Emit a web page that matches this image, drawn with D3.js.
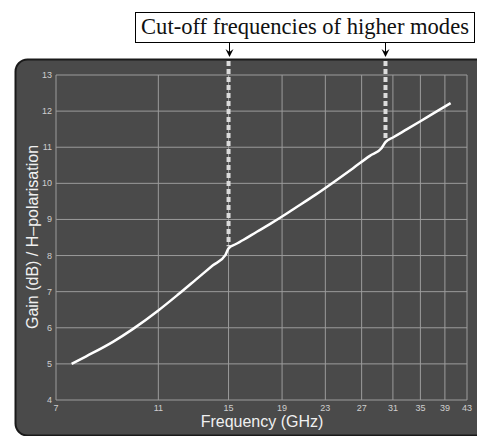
<!DOCTYPE html>
<html>
<head>
<meta charset="utf-8">
<script src="https://cdn.jsdelivr.net/npm/d3@7"></script>
<style>
  body { margin: 0; background: #fff; }
  svg { display: block; }
</style>
</head>
<body>
<div id="chart"></div>
<script>
// values
var freqs = [7.5, 8, 9, 9.84, 11, 12, 13, 14, 14.8, 15, 15.5, 16, 17, 18, 19, 20, 22, 24, 26, 28, 29.5, 30, 31, 33, 35, 37, 40]
var gains = [5.0, 5.21, 5.61, 5.97, 6.48, 6.92, 7.34, 7.73, 8.02, 8.2, 8.32, 8.43, 8.66, 8.87, 9.08, 9.29, 9.68, 10.06, 10.42, 10.76, 10.98, 11.14, 11.27, 11.5, 11.72, 11.93, 12.22]
var xTicks = [7, 11, 15, 19, 23, 27, 31, 35, 39, 43]
var yTicks = [4, 5, 6, 7, 8, 9, 10, 11, 12, 13]
var cutoffFreqs = [15, 30]
var cutoffGains = [8.2, 11.14]
var noteText = "Cut-off frequencies of higher modes"

const width = 477
const height = 436

const svg = d3.select("#chart")
    .append("svg")
    .attr("width", width)
    .attr("height", height)

const x = d3.scaleLog().domain([7, 43]).range([56, 467])
const y = d3.scaleLinear().domain([4, 13]).range([400, 75])

// dark panel
svg.append("rect")
    .attr("x", 15.5)
    .attr("y", 59.5)
    .attr("width", 500)
    .attr("height", 376)
    .attr("rx", 12)
    .style("fill", "#4a4a4a")
    .style("stroke", "#1a1a1a")
    .style("stroke-width", 2)

const grid = svg.append("g")
    .style("stroke", "#9c9c9c")
    .style("stroke-width", 1)

grid.selectAll(".vgrid")
    .data(xTicks)
    .enter()
    .append("line")
    .attr("x1", d => x(d))
    .attr("x2", d => x(d))
    .attr("y1", y(13))
    .attr("y2", y(4))

grid.selectAll(".hgrid")
    .data(yTicks)
    .enter()
    .append("line")
    .attr("x1", x(7))
    .attr("x2", x(43))
    .attr("y1", d => y(d))
    .attr("y2", d => y(d))

// tick labels
const labels = svg.append("g")
    .attr("font-family", "Liberation Sans, Arial, sans-serif")
    .attr("font-size", "9px")
    .attr("fill", "#cfcfcf")

labels.selectAll(".ylab")
    .data(yTicks)
    .enter()
    .append("text")
    .text(d => d)
    .attr("x", x(7) - 4)
    .attr("y", d => y(d) + 3)
    .attr("text-anchor", "end")

labels.selectAll(".xlab")
    .data(xTicks)
    .enter()
    .append("text")
    .text(d => d)
    .attr("x", d => x(d))
    .attr("y", y(4) + 11)
    .attr("text-anchor", "middle")

// axis titles
svg.append("text")
    .text("Frequency (GHz)")
    .attr("x", 262)
    .attr("y", 427)
    .attr("text-anchor", "middle")
    .attr("font-family", "Liberation Sans, Arial, sans-serif")
    .attr("font-size", "16px")
    .attr("fill", "#f0f0f0")

svg.append("text")
    .text("Gain (dB) / H\u2013polarisation")
    .attr("transform", "translate(38,237) rotate(-90)")
    .attr("text-anchor", "middle")
    .attr("font-family", "Liberation Sans, Arial, sans-serif")
    .attr("font-size", "16px")
    .attr("fill", "#f0f0f0")

// dashed cut-off markers
svg.selectAll(".cutoff")
    .data(cutoffFreqs)
    .enter()
    .append("line")
    .attr("x1", d => x(d))
    .attr("x2", d => x(d))
    .attr("y1", 61)
    .attr("y2", (d, i) => y(cutoffGains[i]) - 2)
    .style("stroke", "#dcdcdc")
    .style("stroke-width", 4)
    .style("stroke-dasharray", "5,3")

// gain curve
const line = d3.line()
    .x(d => x(d[0]))
    .y(d => y(d[1]))
    .curve(d3.curveMonotoneX)

svg.append("path")
    .datum(freqs.map((f, i) => [f, gains[i]]))
    .attr("d", line)
    .style("fill", "none")
    .style("stroke", "#ffffff")
    .style("stroke-width", 2.5)

// annotation box + arrows
svg.append("rect")
    .attr("x", 135.5)
    .attr("y", 12.5)
    .attr("width", 339)
    .attr("height", 30)
    .style("fill", "#fff")
    .style("stroke", "#000")
    .style("stroke-width", 1)

const note = svg.append("text")
    .text(noteText)
    .attr("x", 305)
    .attr("y", 34)
    .attr("text-anchor", "middle")
    .attr("font-family", "Liberation Serif, DejaVu Serif, serif")
    .attr("font-size", "24px")
    .attr("fill", "#111")

// fit the note inside the box
const noteWidth = note.node().getComputedTextLength()
note.attr("font-size", (24 * 328 / noteWidth).toFixed(2) + "px")

const arrows = svg.selectAll(".arrow")
    .data(cutoffFreqs)
    .enter()
    .append("g")
    .attr("transform", d => `translate(${Math.round(x(d)) + 0.5},0)`)

arrows.append("line")
    .attr("x1", 0)
    .attr("x2", 0)
    .attr("y1", 43)
    .attr("y2", 56)
    .style("stroke", "#000")
    .style("stroke-width", 1)

arrows.append("path")
    .attr("d", "M-4,49 L0,57 L4,49 L0,52 Z")
    .style("fill", "#000")
</script>
</body>
</html>
